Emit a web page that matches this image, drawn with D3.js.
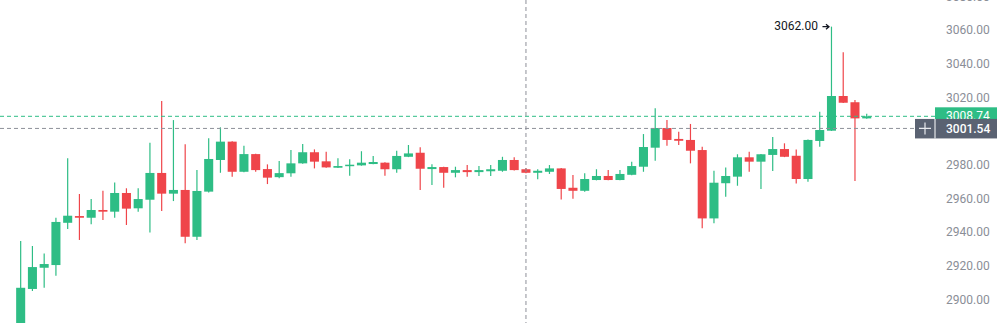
<!DOCTYPE html>
<html>
<head>
<meta charset="utf-8">
<script src="https://cdn.jsdelivr.net/npm/d3@7/dist/d3.min.js"></script>
<style>
body { margin: 0; background: #ffffff; overflow: hidden; }
svg { display: block; font-family: Roboto, "Open Sans", sans-serif; }
</style>
</head>
<body>
<svg></svg>
<script>
// candle values, one entry per bar
var openPrices = [2880, 2906.2, 2918.8, 2920.4, 2945.5, 2949.5, 2948.5, 2953.1, 2952.1, 2963.2,
    2954.1, 2959.2, 2975.1, 2962.8, 2965.0, 2937.2, 2964.0, 2982.8, 2993.7, 2975.8,
    2986.3, 2977.4, 2972.6, 2974.9, 2980.8, 2987.4, 2982.0, 2978.2, 2979.2, 2979.6,
    2980.4, 2981.2, 2977.3, 2984.7, 2987.1, 2977.4, 2978.6, 2975.2, 2976.8, 2975.6,
    2976.1, 2976.4, 2982.8, 2977.3, 2975.2, 2975.8, 2977.8, 2966.3, 2964.5, 2970.9,
    2973.3, 2970.9, 2974.0, 2978.8, 2990.1, 3001.8, 2995.3, 2994.7, 2988.7, 2948.1,
    2969.0, 2972.9, 2984.4, 2981.8, 2985.8, 2989.3, 2985.3, 2971.5, 2994.1, 3000.2,
    3020.8, 3017.1, 3007.5];
var highPrices = [2934.7, 2931.7, 2927.3, 2948.5, 2983.8, 2962.6, 2959.6, 2964.5, 2969.5, 2966.0,
    2966.0, 2993.1, 3017.8, 3006.5, 2992.1, 2976.8, 2995.7, 3002.2, 2994.0, 2991.3,
    2986.5, 2980.2, 2982.2, 2988.7, 2992.3, 2989.1, 2987.7, 2983.8, 2983.2, 2988.0,
    2985.2, 2981.4, 2988.3, 2991.7, 2990.3, 2980.2, 2978.8, 2978.8, 2979.8, 2979.2,
    2979.8, 2984.7, 2984.4, 2978.0, 2977.3, 2979.8, 2978.0, 2973.9, 2974.9, 2977.3,
    2976.8, 2976.8, 2981.8, 2998.2, 3013.5, 3006.5, 2999.6, 3004.2, 2990.7, 2976.4,
    2978.4, 2986.2, 2987.7, 2986.4, 2996.4, 2992.7, 2989.1, 2994.9, 3011.5, 3062.0,
    3046.8, 3018.4, 3010.3];
var lowPrices = [2876, 2905.0, 2906.9, 2914.0, 2941.8, 2935.3, 2944.6, 2947.1, 2948.5, 2944.2,
    2952.1, 2939.8, 2952.5, 2958.4, 2933.3, 2935.3, 2963.5, 2975.2, 2972.9, 2975.5,
    2975.8, 2968.5, 2972.0, 2972.9, 2980.5, 2977.8, 2978.2, 2978.0, 2973.5, 2979.4,
    2980.2, 2973.5, 2975.2, 2984.5, 2965.0, 2967.9, 2966.3, 2972.5, 2972.9, 2973.3,
    2973.3, 2975.8, 2976.6, 2974.9, 2971.3, 2974.5, 2959.4, 2959.8, 2964.0, 2970.7,
    2970.7, 2970.7, 2973.8, 2975.8, 2982.4, 2991.3, 2991.7, 2980.8, 2942.2, 2945.2,
    2961.0, 2967.5, 2975.8, 2965.6, 2976.2, 2984.5, 2968.9, 2969.9, 2990.7, 3000.0,
    3016.6, 2970.3, 3007.3];
var closePrices = [2906.9, 2919.2, 2921.0, 2946.0, 2949.7, 2948.5, 2953.1, 2952.1, 2963.2, 2953.9,
    2959.6, 2975.1, 2962.8, 2965.0, 2937.2, 2964.4, 2983.4, 2993.7, 2975.8, 2986.3,
    2976.8, 2972.3, 2975.0, 2980.8, 2987.4, 2981.8, 2978.4, 2979.2, 2980.0, 2981.2,
    2981.6, 2977.3, 2985.2, 2986.7, 2977.6, 2978.6, 2975.2, 2976.8, 2975.6, 2976.8,
    2977.3, 2982.8, 2976.8, 2975.2, 2976.4, 2977.8, 2965.6, 2964.5, 2971.5, 2973.3,
    2970.9, 2974.5, 2979.2, 2990.5, 3001.8, 2994.7, 2994.2, 2988.3, 2948.1, 2969.3,
    2973.3, 2984.4, 2981.8, 2986.2, 2989.3, 2984.7, 2971.5, 2994.7, 3000.6, 3020.8,
    3016.8, 3007.5, 3008.74];

// price axis labels
var priceTicks = [2900, 2920, 2940, 2960, 2980, 3000, 3020, 3040, 3060, 3080];

var lastPrice = 3008.74;   // last close, green label
var crossPrice = 3001.54;  // crosshair price, grey label
var crossIndex = 43;       // bar under the vertical crosshair
var peakIndex = 69;        // bar with the marked high

drawChart = function(){

    var svgWidth = 997;
    var svgHeight = 323;
    var axisLeft = 935;

    var upColour = "#2ebd85";
    var downColour = "#ef454a";
    var crossColour = "#5a6272";

    var svg = d3.select('svg')
        .attr("width", svgWidth)
        .attr("height", svgHeight);

    var bars = d3.range(openPrices.length);

    var x = d3.scaleBand()
        .domain(bars)
        .range([14.8, 872.6])
        .paddingInner(0.23)
        .paddingOuter(0.115);

    var y = d3.scaleLinear()
        .domain([2900, 3060])
        .range([299.4, 30]);

    var centre = function(i){ return x(i) + x.bandwidth() / 2; };
    var colour = function(i){ return closePrices[i] >= openPrices[i] ? upColour : downColour; };

    // wicks
    svg.append("g")
        .selectAll(null)
        .data(bars)
        .enter()
        .append("line")
        .attr("x1", centre)
        .attr("x2", centre)
        .attr("y1", function(i){ return y(highPrices[i]); })
        .attr("y2", function(i){ return y(lowPrices[i]); })
        .attr("stroke", colour)
        .attr("stroke-width", 1.2);

    // bodies
    svg.append("g")
        .selectAll(null)
        .data(bars)
        .enter()
        .append("rect")
        .attr("x", function(i){ return x(i); })
        .attr("width", x.bandwidth())
        .attr("y", function(i){ return y(Math.max(openPrices[i], closePrices[i])); })
        .attr("height", function(i){
            return Math.max(1.5, Math.abs(y(openPrices[i]) - y(closePrices[i])));
        })
        .attr("fill", colour);

    // last price line
    svg.append("line")
        .attr("x1", 0)
        .attr("x2", axisLeft)
        .attr("y1", y(lastPrice))
        .attr("y2", y(lastPrice))
        .attr("stroke", upColour)
        .attr("stroke-width", 1)
        .attr("stroke-dasharray", "4,3");

    // crosshair
    svg.append("line")
        .attr("x1", 0)
        .attr("x2", 915)
        .attr("y1", y(crossPrice))
        .attr("y2", y(crossPrice))
        .attr("stroke", "#8d9099")
        .attr("stroke-width", 1)
        .attr("stroke-dasharray", "4,3");

    svg.append("line")
        .attr("x1", centre(crossIndex))
        .attr("x2", centre(crossIndex))
        .attr("y1", 0)
        .attr("y2", svgHeight)
        .attr("stroke", "#8d9099")
        .attr("stroke-width", 1)
        .attr("stroke-dasharray", "4,3");

    // high marker: value and a small arrow pointing at the wick
    var peakX = centre(peakIndex);
    var peakY = y(highPrices[peakIndex]);
    svg.append("text")
        .attr("x", peakX - 13.5)
        .attr("y", peakY)
        .attr("dy", "0.32em")
        .attr("text-anchor", "end")
        .attr("fill", "#131722")
        .style("font-size", "12px")
        .text(d3.format(".2f")(highPrices[peakIndex]));
    svg.append("path")
        .attr("d", "M" + (peakX - 9) + "," + peakY + "h6.5M" + (peakX - 5.5) + "," + (peakY - 2.5) +
            "l3,2.5l-3,2.5")
        .attr("fill", "none")
        .attr("stroke", "#131722")
        .attr("stroke-width", 1.3);

    // price axis
    var axis = svg.append("g")
        .attr("transform", "translate(" + axisLeft + ",0)")
        .call(d3.axisRight(y)
            .tickValues(priceTicks)
            .tickFormat(d3.format(".2f"))
            .tickSize(0)
            .tickPadding(11));
    axis.select(".domain").remove();
    axis.selectAll("text")
        .attr("fill", "#8a8e97")
        .style("font-size", "12px")
        .style("font-family", "Roboto, sans-serif");

    // last price label
    svg.append("rect")
        .attr("x", axisLeft)
        .attr("y", y(lastPrice) - 9)
        .attr("width", svgWidth - axisLeft)
        .attr("height", 18)
        .attr("fill", upColour);
    svg.append("text")
        .attr("x", axisLeft + 11)
        .attr("y", y(lastPrice))
        .attr("dy", "0.32em")
        .attr("fill", "white")
        .style("font-size", "12px")
        .text(d3.format(".2f")(lastPrice));

    // crosshair label with plus button
    svg.append("rect")
        .attr("x", 915)
        .attr("y", y(crossPrice) - 9.5)
        .attr("width", svgWidth - 915)
        .attr("height", 19.5)
        .attr("fill", crossColour);
    svg.append("line")
        .attr("x1", axisLeft)
        .attr("x2", axisLeft)
        .attr("y1", y(crossPrice) - 9.5)
        .attr("y2", y(crossPrice) + 10)
        .attr("stroke", "white")
        .attr("stroke-width", 1);
    var plusX = 925;
    svg.append("path")
        .attr("d", "M" + (plusX - 6) + "," + y(crossPrice) + "h12M" + plusX + "," + (y(crossPrice) - 6) + "v12")
        .attr("stroke", "#e8eaee")
        .attr("stroke-width", 1.2);
    svg.append("text")
        .attr("x", axisLeft + 11)
        .attr("y", y(crossPrice))
        .attr("dy", "0.34em")
        .attr("fill", "white")
        .style("font-size", "12px")
        .style("font-weight", "500")
        .text(d3.format(".2f")(crossPrice));
}

drawChart()
</script>
</body>
</html>
